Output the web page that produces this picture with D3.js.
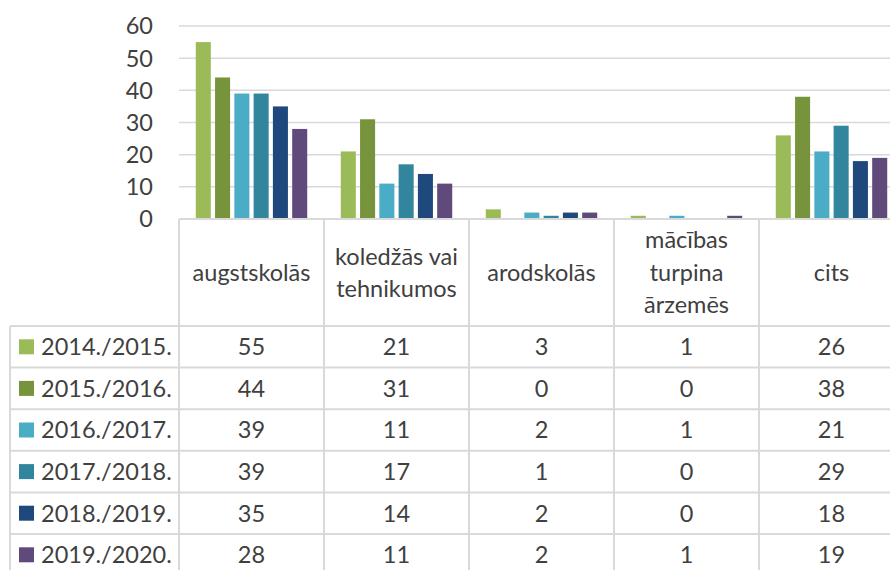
<!DOCTYPE html>
<html>
<head>
<meta charset="utf-8">
<script src="https://cdn.jsdelivr.net/npm/d3@7"></script>
<style>
  body { margin: 0; background: #fff; }
  text { font-family: Lato, 'Open Sans', sans-serif; fill: #404040; }
</style>
</head>
<body>
<svg id="mainFrame"></svg>
<script>
// data
const categories = ['augstskolās', 'koledžās vai\ntehnikumos', 'arodskolās', 'mācības\nturpina\nārzemēs', 'cits'];
const series = ['2014./2015.', '2015./2016.', '2016./2017.', '2017./2018.', '2018./2019.', '2019./2020.'];
const v2014 = [55, 21, 3, 1, 26];
const v2015 = [44, 31, 0, 0, 38];
const v2016 = [39, 11, 2, 1, 21];
const v2017 = [39, 17, 1, 0, 29];
const v2018 = [35, 14, 2, 0, 18];
const v2019 = [28, 11, 2, 1, 19];
const yTicks = [0, 10, 20, 30, 40, 50, 60];

const values = [v2014, v2015, v2016, v2017, v2018, v2019];
const colors = d3.scaleOrdinal()
    .domain(series)
    .range(['#9bbb59', '#77933c', '#4bacc6', '#31859c', '#1f497d', '#604a7b']);

const width = 890, height = 570;
const svg = d3.select('#mainFrame')
    .attr('width', width)
    .attr('height', height);

const plot = { left: 179, top: 26, bottom: 219 };
const colW = 145;
const rowH = 41.6;
const headerBottom = 326;
const tableLeft = 10;
const gridColor = '#d9d9d9';
const fontSize = 23.5;

const x = d3.scaleBand()
    .domain(categories)
    .range([plot.left, plot.left + colW * categories.length]);

const xInner = d3.scaleBand()
    .domain(series)
    .range([0, x.bandwidth()])
    .paddingInner(0.22)
    .paddingOuter(0.87);

const y = d3.scaleLinear()
    .domain([0, 60])
    .range([plot.bottom, plot.top]);

// gridlines
svg.append('g')
    .selectAll('line')
    .data(yTicks.filter(d => d > 0))
    .join('line')
    .attr('x1', plot.left)
    .attr('x2', width)
    .attr('y1', d => y(d))
    .attr('y2', d => y(d))
    .attr('stroke', gridColor)
    .attr('stroke-width', 1.5);

// y axis labels
svg.append('g')
    .selectAll('text')
    .data(yTicks)
    .join('text')
    .attr('x', 153)
    .attr('y', d => y(d))
    .attr('dy', '0.36em')
    .attr('text-anchor', 'end')
    .attr('font-size', fontSize)
    .text(d => d);

// bars
const barData = [];
series.forEach((s, i) => {
    categories.forEach((c, j) => barData.push({ series: s, category: c, value: values[i][j] }));
});

svg.append('g')
    .selectAll('rect')
    .data(barData)
    .join('rect')
    .attr('x', d => x(d.category) + xInner(d.series))
    .attr('y', d => y(d.value))
    .attr('width', xInner.bandwidth())
    .attr('height', d => y(0) - y(d.value))
    .attr('fill', d => colors(d.series));

// table lines
const table = svg.append('g');
const rowsBottom = headerBottom + rowH * series.length;

// axis line
table.append('line')
    .attr('x1', plot.left).attr('x2', width)
    .attr('y1', plot.bottom).attr('y2', plot.bottom)
    .attr('stroke', gridColor).attr('stroke-width', 2);

// vertical lines between categories
table.selectAll('.vline')
    .data(categories.concat(['end']))
    .join('line')
    .attr('class', 'vline')
    .attr('x1', (d, i) => plot.left + i * colW)
    .attr('x2', (d, i) => plot.left + i * colW)
    .attr('y1', plot.bottom)
    .attr('y2', rowsBottom)
    .attr('stroke', gridColor).attr('stroke-width', 2);

// legend column left border
table.append('line')
    .attr('x1', tableLeft).attr('x2', tableLeft)
    .attr('y1', headerBottom).attr('y2', rowsBottom)
    .attr('stroke', gridColor).attr('stroke-width', 2);

// horizontal row lines
table.selectAll('.hline')
    .data(d3.range(series.length + 1))
    .join('line')
    .attr('class', 'hline')
    .attr('x1', tableLeft).attr('x2', width)
    .attr('y1', i => headerBottom + i * rowH)
    .attr('y2', i => headerBottom + i * rowH)
    .attr('stroke', gridColor).attr('stroke-width', 2);

// category header labels
const lineH = 32.5;
const headerMid = (plot.bottom + headerBottom) / 2;
svg.append('g')
    .selectAll('text')
    .data(categories)
    .join('text')
    .attr('text-anchor', 'middle')
    .attr('font-size', fontSize)
    .each(function (d) {
        const lines = d.split('\n');
        const startY = headerMid - (lines.length - 1) * lineH / 2;
        d3.select(this).selectAll('tspan')
            .data(lines)
            .join('tspan')
            .attr('x', x(d) + x.bandwidth() / 2)
            .attr('y', (l, i) => startY + i * lineH)
            .attr('dy', '0.36em')
            .text(l => l);
    });

// rows: legend key + values
const rows = svg.append('g')
    .selectAll('g')
    .data(series)
    .join('g')
    .attr('transform', (d, i) => `translate(0, ${headerBottom + i * rowH + rowH / 2})`);

rows.append('rect')
    .attr('x', 19)
    .attr('y', -7.5)
    .attr('width', 15)
    .attr('height', 15)
    .attr('fill', d => colors(d));

rows.append('text')
    .attr('x', 41)
    .attr('dy', '0.36em')
    .attr('font-size', fontSize)
    .text(d => d);

rows.each(function (s, i) {
    d3.select(this).selectAll('.val')
        .data(values[i])
        .join('text')
        .attr('class', 'val')
        .attr('x', (v, j) => x(categories[j]) + x.bandwidth() / 2)
        .attr('dy', '0.36em')
        .attr('text-anchor', 'middle')
        .attr('font-size', fontSize)
        .text(v => v);
});
</script>
</body>
</html>
